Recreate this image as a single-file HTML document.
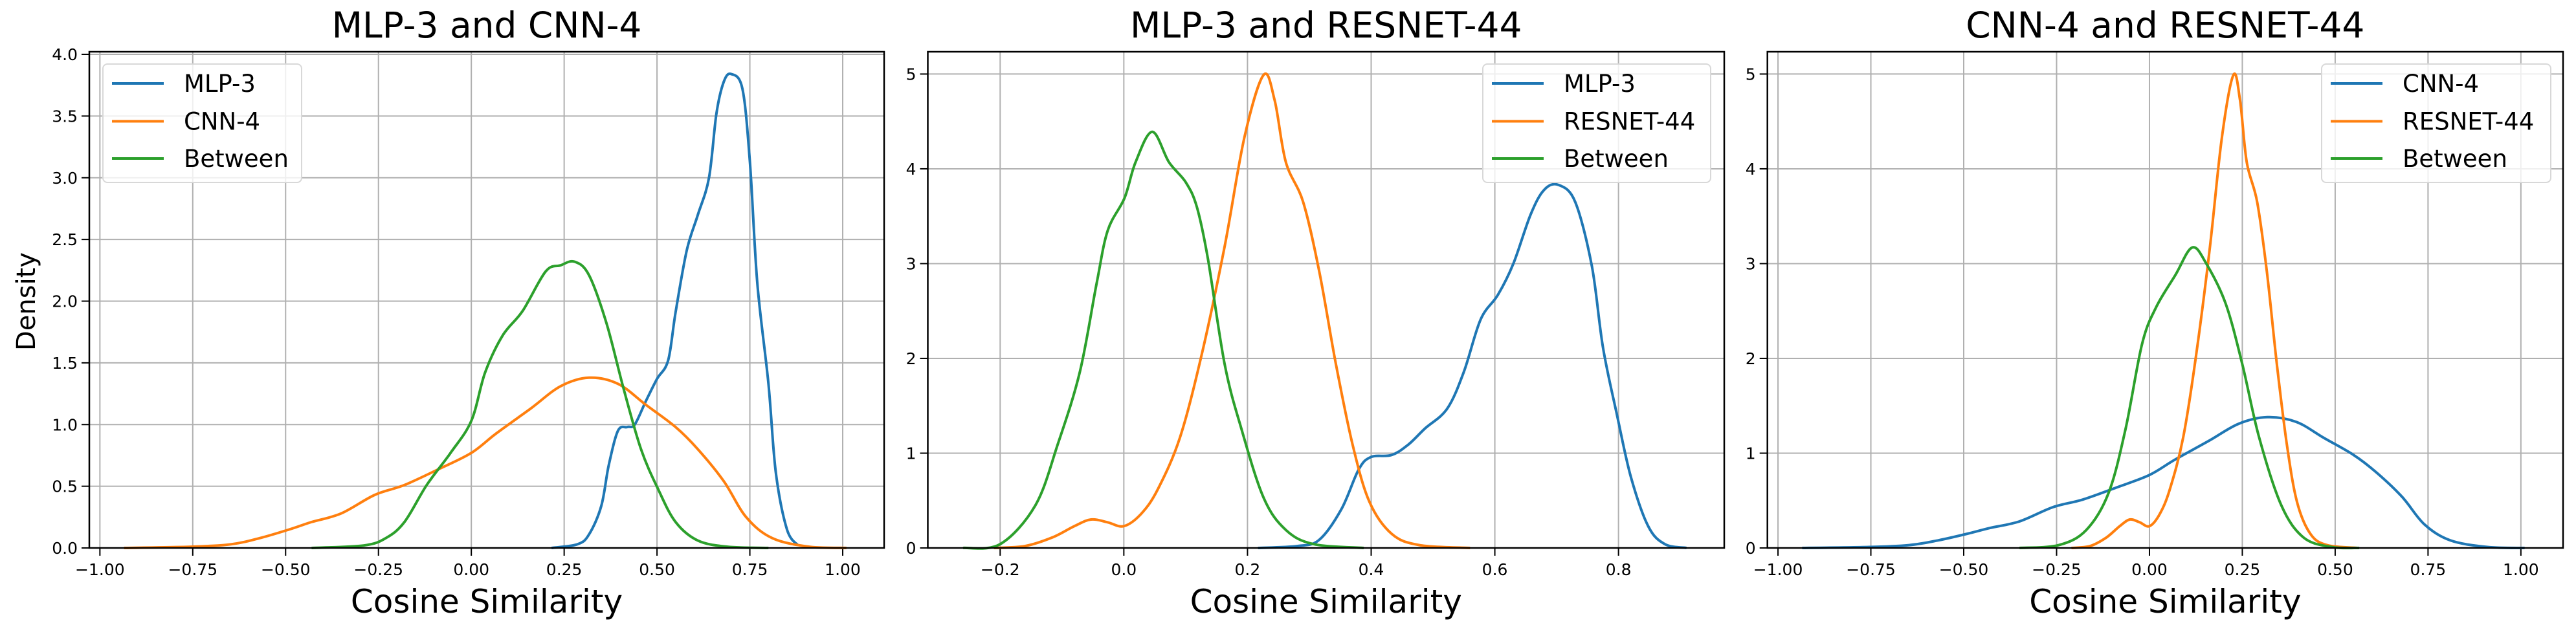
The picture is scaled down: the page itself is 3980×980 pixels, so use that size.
<!DOCTYPE html>
<html><head><meta charset="utf-8">
<style>
html,body{margin:0;padding:0;background:#fff;}
svg{display:block;font-family:"DejaVu Sans","Liberation Sans",sans-serif;}
</style></head>
<body>
<svg id="chart" width="3980" height="980" viewBox="0 0 3980 980" xmlns="http://www.w3.org/2000/svg"></svg>
<script>
// ---- data (x, density) ----
const mlpX = [0.216,0.286,0.317,0.35,0.37,0.395,0.42,0.44,0.47,0.50,0.53,0.55,0.58,0.61,0.64,0.66,0.68,0.70,0.73,0.75,0.77,0.80,0.82,0.85,0.88];
const mlpY = [0,0.03,0.11,0.34,0.67,0.95,0.98,1.0,1.19,1.37,1.52,1.91,2.41,2.70,3.0,3.52,3.78,3.84,3.72,3.13,2.15,1.33,0.61,0.15,0.02];
const mlp2X = [0.217,0.28,0.316,0.352,0.38,0.40,0.433,0.46,0.487,0.523,0.55,0.577,0.605,0.63,0.658,0.68,0.703,0.73,0.757,0.775,0.798,0.82,0.848,0.875,0.91];
const mlp2Y = [0,0.02,0.085,0.41,0.83,0.96,0.98,1.09,1.26,1.47,1.86,2.41,2.67,3.0,3.52,3.78,3.83,3.65,2.97,2.11,1.39,0.75,0.23,0.04,0];
const cnnX = [-0.935,-0.755,-0.647,-0.569,-0.49,-0.43,-0.35,-0.26,-0.18,-0.087,0,0.068,0.16,0.24,0.317,0.395,0.47,0.55,0.61,0.68,0.74,0.81,0.91,1.01];
const cnnY = [0,0.01,0.03,0.08,0.15,0.21,0.28,0.43,0.51,0.64,0.77,0.93,1.13,1.31,1.38,1.33,1.16,0.98,0.80,0.54,0.25,0.08,0.01,0];
const resX = [-0.21,-0.16,-0.116,-0.08,-0.053,-0.026,0,0.028,0.055,0.091,0.127,0.163,0.195,0.226,0.244,0.262,0.29,0.316,0.343,0.37,0.397,0.433,0.478,0.56];
const resY = [0,0.02,0.11,0.23,0.30,0.27,0.23,0.36,0.62,1.17,2.07,3.18,4.33,4.99,4.72,4.07,3.65,2.92,1.94,1.09,0.49,0.15,0.03,0];
const bet1X = [-0.43,-0.29,-0.23,-0.18,-0.12,-0.056,0,0.037,0.084,0.138,0.20,0.24,0.278,0.317,0.364,0.41,0.457,0.504,0.55,0.61,0.69,0.80];
const bet1Y = [0,0.02,0.08,0.21,0.51,0.77,1.03,1.42,1.72,1.92,2.24,2.29,2.32,2.21,1.82,1.29,0.80,0.47,0.21,0.06,0.01,0];
const bet2X = [-0.26,-0.2,-0.143,-0.107,-0.071,-0.044,-0.026,0.001,0.019,0.046,0.073,0.1,0.118,0.136,0.163,0.19,0.226,0.262,0.307,0.388];
const bet2Y = [0,0.04,0.45,1.09,1.86,2.79,3.35,3.69,4.07,4.39,4.07,3.86,3.6,3.05,1.94,1.26,0.53,0.19,0.04,0];
const bet3X = [-0.35,-0.244,-0.17,-0.11,-0.064,-0.02,0.018,0.07,0.115,0.153,0.205,0.25,0.295,0.355,0.415,0.49,0.565];
const bet3Y = [0,0.03,0.19,0.58,1.26,2.15,2.54,2.88,3.17,3.0,2.58,1.94,1.17,0.45,0.11,0.01,0];
const xTicksA = [-1,-0.75,-0.5,-0.25,0,0.25,0.5,0.75,1];
const xTickLabelsA = ["−1.00","−0.75","−0.50","−0.25","0.00","0.25","0.50","0.75","1.00"];
const xTicksB = [-0.2,0,0.2,0.4,0.6,0.8];
const xTickLabelsB = ["−0.2","0.0","0.2","0.4","0.6","0.8"];
const yTicksA = [0,0.5,1,1.5,2,2.5,3,3.5,4];
const yTickLabelsA = ["0.0","0.5","1.0","1.5","2.0","2.5","3.0","3.5","4.0"];
const yTicksB = [0,1,2,3,4,5];
const yTickLabelsB = ["0","1","2","3","4","5"];

const NS = "http://www.w3.org/2000/svg";
const svg = document.getElementById('chart');
const C = {b:"#1f77b4", o:"#ff7f0e", g:"#2ca02c"};
function mk(tag, attrs, parent){ const e=document.createElementNS(NS,tag); for(const k in attrs) e.setAttribute(k,attrs[k]); (parent||svg).appendChild(e); return e; }
function smooth(pts){
  let d="M"+pts[0][0].toFixed(1)+","+pts[0][1].toFixed(1);
  for(let i=0;i<pts.length-1;i++){
    const p0=pts[Math.max(0,i-1)],p1=pts[i],p2=pts[i+1],p3=pts[Math.min(pts.length-1,i+2)];
    const c1=[p1[0]+(p2[0]-p0[0])/6,p1[1]+(p2[1]-p0[1])/6];
    const c2=[p2[0]-(p3[0]-p1[0])/6,p2[1]-(p3[1]-p1[1])/6];
    d+="C"+c1[0].toFixed(1)+","+c1[1].toFixed(1)+" "+c2[0].toFixed(1)+","+c2[1].toFixed(1)+" "+p2[0].toFixed(1)+","+p2[1].toFixed(1);
  }
  return d;
}
const panels = [
  {id:"p1", title:"MLP-3 and CNN-4", L:138, R:1366, xmin:-1.0285, xmax:1.1115, ymax:4.021, xt:xTicksA, xl:xTickLabelsA, yt:yTicksA, yl:yTicksA.length?yTickLabelsA:[],
   series:[["MLP-3",mlpX,mlpY,C.b],["CNN-4",cnnX,cnnY,C.o],["Between",bet1X,bet1Y,C.g]], leg:[159,466], ylabel:true},
  {id:"p2", title:"MLP-3 and RESNET-44", L:1433.5, R:2664, xmin:-0.317, xmax:0.971, ymax:5.235, xt:xTicksB, xl:xTickLabelsB, yt:yTicksB, yl:yTickLabelsB,
   series:[["MLP-3",mlp2X,mlp2Y,C.b],["RESNET-44",resX,resY,C.o],["Between",bet2X,bet2Y,C.g]], leg:[2291,2643]},
  {id:"p3", title:"CNN-4 and RESNET-44", L:2730.7, R:3960, xmin:-1.0285, xmax:1.1135, ymax:5.235, xt:xTicksA, xl:xTickLabelsA, yt:yTicksB, yl:yTickLabelsB,
   series:[["CNN-4",cnnX,cnnY,C.b],["RESNET-44",resX,resY,C.o],["Between",bet3X,bet3Y,C.g]], leg:[3587,3941]}
];
const T=80, B=847;
panels.forEach(p=>{
  const g=mk('g',{});
  
  
  const sx=v=>p.L+(v-p.xmin)/(p.xmax-p.xmin)*(p.R-p.L);
  const sy=v=>B-v/p.ymax*(B-T);
  const cx=(p.L+p.R)/2;
  const t=mk('text',{x:cx,y:58,'font-size':55,'text-anchor':'middle',fill:'#000'},g); t.textContent=p.title;
  
  
  // grid + ticks
  p.xt.forEach((v,i)=>{
    const x=sx(v);
    mk('line',{x1:x,x2:x,y1:T,y2:B,stroke:'#b0b0b0','stroke-width':2},g);
    mk('line',{x1:x,x2:x,y1:B,y2:B+12,stroke:'#000','stroke-width':2},g);
    const tl=mk('text',{x:x,y:B+42,'font-size':25,'text-anchor':'middle'},g); tl.textContent=p.xl[i];
    
    
  });
  p.yt.forEach((v,i)=>{
    const y=sy(v);
    mk('line',{x1:p.L,x2:p.R,y1:y,y2:y,stroke:'#b0b0b0','stroke-width':2},g);
    mk('line',{x1:p.L-12,x2:p.L,y1:y,y2:y,stroke:'#000','stroke-width':2},g);
    const tl=mk('text',{x:p.L-18,y:y+9,'font-size':25,'text-anchor':'end'},g); tl.textContent=p.yl[i];
    
    
  });
  // series
  p.series.forEach(s=>{
    const pts=s[1].map((x,i)=>[sx(x),sy(s[2][i])]);
    const path=mk('path',{d:smooth(pts),fill:'none',stroke:s[3],'stroke-width':4,'stroke-linejoin':'round'},g);
    
    
  });
  mk('rect',{x:p.L,y:T,width:p.R-p.L,height:B-T,fill:'none',stroke:'#000','stroke-width':2.5},g);
  const xl=mk('text',{x:cx,y:947,'font-size':50,'text-anchor':'middle'},g); xl.textContent="Cosine Similarity";
  
  
  if(p.ylabel){
    const yl=mk('text',{x:0,y:0,'font-size':40,'text-anchor':'middle',transform:'translate(54,466) rotate(-90)'},g); yl.textContent="Density";
    
    
  }
  // legend
  const lg=mk('g',{},g);
  
  
  mk('rect',{x:p.leg[0],y:99,width:p.leg[1]-p.leg[0],height:183,rx:7,fill:'#fff','fill-opacity':0.8,stroke:'#d8d8d8','stroke-width':2},lg);
  [129,187.5,245].forEach((y,i)=>{
    const s=p.series[i];
    mk('line',{x1:p.leg[0]+14,x2:p.leg[0]+94,y1:y,y2:y,stroke:s[3],'stroke-width':4},lg);
    const tx=mk('text',{x:p.leg[0]+125,y:y+13,'font-size':37},lg); tx.textContent=s[0];
    
    
  });
});
</script>
</body></html>
